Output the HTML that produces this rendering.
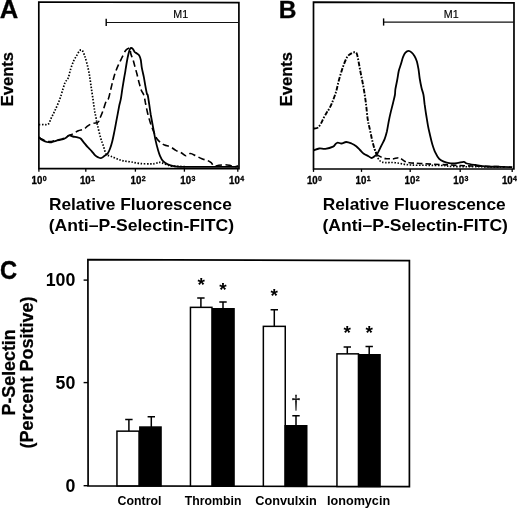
<!DOCTYPE html>
<html><head><meta charset="utf-8"><title>Figure</title>
<style>html,body{margin:0;padding:0;background:#fff}svg{display:block}text{font-family:"Liberation Sans",Arial,Helvetica,sans-serif;fill:#000}.b{font-weight:bold}</style>
</head><body>
<svg width="520" height="508" viewBox="0 0 520 508">
<rect width="520" height="508" fill="#fff"/>
<polygon points="38.8,2.0 238.9,2.7 239,168.7 38.9,168.7" fill="none" stroke="#000" stroke-width="1.7" stroke-linejoin="miter"/>
<text class="b" x="-0.2" y="17.8" font-size="25.6" stroke="#000" stroke-width="0.3">A</text>
<path d="M106.2,22.5 H239" stroke="#111" stroke-width="1.1" fill="none"/>
<path d="M106.2,18.8 V26.0" stroke="#000" stroke-width="1.4" fill="none"/>
<text x="180.8" y="17.6" font-size="10.7" text-anchor="middle" stroke="#000" stroke-width="0.15">M1</text>
<text class="b" transform="translate(13.2,106.3) rotate(-90)" font-size="16.6" textLength="54.3" lengthAdjust="spacingAndGlyphs" stroke="#000" stroke-width="0.25">Events</text>
<path d="M38.9,168.7 v3" stroke="#000" stroke-width="1.3"/>
<text class="b" transform="translate(31.6,184.1) scale(1,1.08)" font-size="9.7" stroke="#000" stroke-width="0.3">10<tspan dy="-2.8" dx="0.4" font-size="7">0</tspan></text>
<path d="M85.8,168.7 v3" stroke="#000" stroke-width="1.3"/>
<text class="b" transform="translate(79.9,184.1) scale(1,1.08)" font-size="9.7" stroke="#000" stroke-width="0.3">10<tspan dy="-2.8" dx="0.4" font-size="7">1</tspan></text>
<path d="M135.4,168.7 v3" stroke="#000" stroke-width="1.3"/>
<text class="b" transform="translate(130.6,184.1) scale(1,1.08)" font-size="9.7" stroke="#000" stroke-width="0.3">10<tspan dy="-2.8" dx="0.4" font-size="7">2</tspan></text>
<path d="M184.4,168.7 v3" stroke="#000" stroke-width="1.3"/>
<text class="b" transform="translate(180.3,184.1) scale(1,1.08)" font-size="9.7" stroke="#000" stroke-width="0.3">10<tspan dy="-2.8" dx="0.4" font-size="7">3</tspan></text>
<path d="M237.8,168.7 v3" stroke="#000" stroke-width="1.3"/>
<text class="b" transform="translate(229.1,184.1) scale(1,1.08)" font-size="9.7" stroke="#000" stroke-width="0.3">10<tspan dy="-2.8" dx="0.4" font-size="7">4</tspan></text>
<polygon points="313.5,2.2 514,2.9 513.9,169 313.5,168.9" fill="none" stroke="#000" stroke-width="1.7" stroke-linejoin="miter"/>
<text class="b" x="278.8" y="17.8" font-size="24.5" stroke="#000" stroke-width="0.3">B</text>
<path d="M383.6,22.1 H514" stroke="#111" stroke-width="1.1" fill="none"/>
<path d="M383.6,18.400000000000002 V25.6" stroke="#000" stroke-width="1.4" fill="none"/>
<text x="451.2" y="18.1" font-size="10.7" text-anchor="middle" stroke="#000" stroke-width="0.15">M1</text>
<text class="b" transform="translate(292.2,106.3) rotate(-90)" font-size="16.6" textLength="54.3" lengthAdjust="spacingAndGlyphs" stroke="#000" stroke-width="0.25">Events</text>
<path d="M313.5,168.9 v3" stroke="#000" stroke-width="1.3"/>
<text class="b" transform="translate(306.9,184.1) scale(1,1.08)" font-size="9.7" stroke="#000" stroke-width="0.3">10<tspan dy="-2.8" dx="0.4" font-size="7">0</tspan></text>
<path d="M361.5,168.9 v3" stroke="#000" stroke-width="1.3"/>
<text class="b" transform="translate(355.6,184.1) scale(1,1.08)" font-size="9.7" stroke="#000" stroke-width="0.3">10<tspan dy="-2.8" dx="0.4" font-size="7">1</tspan></text>
<path d="M410.2,168.9 v3" stroke="#000" stroke-width="1.3"/>
<text class="b" transform="translate(404.6,184.1) scale(1,1.08)" font-size="9.7" stroke="#000" stroke-width="0.3">10<tspan dy="-2.8" dx="0.4" font-size="7">2</tspan></text>
<path d="M460.2,168.9 v3" stroke="#000" stroke-width="1.3"/>
<text class="b" transform="translate(453.3,184.1) scale(1,1.08)" font-size="9.7" stroke="#000" stroke-width="0.3">10<tspan dy="-2.8" dx="0.4" font-size="7">3</tspan></text>
<path d="M512.2,168.9 v3" stroke="#000" stroke-width="1.3"/>
<text class="b" transform="translate(501.9,184.1) scale(1,1.08)" font-size="9.7" stroke="#000" stroke-width="0.3">10<tspan dy="-2.8" dx="0.4" font-size="7">4</tspan></text>
<text class="b" x="140.4" y="210.3" font-size="17.3" text-anchor="middle" textLength="183" lengthAdjust="spacingAndGlyphs">Relative Fluorescence</text>
<text class="b" x="141.4" y="230.8" font-size="17.3" text-anchor="middle" textLength="185.5" lengthAdjust="spacingAndGlyphs">(Anti–P-Selectin-FITC)</text>
<text class="b" x="414.2" y="210.3" font-size="17.3" text-anchor="middle" textLength="183" lengthAdjust="spacingAndGlyphs">Relative Fluorescence</text>
<text class="b" x="415.2" y="230.8" font-size="17.3" text-anchor="middle" textLength="185.5" lengthAdjust="spacingAndGlyphs">(Anti–P-Selectin-FITC)</text>
<path d="M38.9,124.6 C39.8,124.6 42.4,124.6 44.0,124.5 C45.6,124.4 47.1,125.3 48.3,124.2 C49.5,123.1 50.2,120.1 51.4,117.7 C52.5,115.3 53.8,113.1 55.2,110.0 C56.6,106.9 58.5,102.7 59.8,99.2 C61.1,95.7 62.0,92.0 62.9,89.2 C63.8,86.4 64.3,84.2 65.2,82.3 C66.1,80.4 67.4,79.9 68.3,77.7 C69.2,75.5 69.7,72.0 70.6,69.2 C71.5,66.4 72.7,63.1 73.7,60.8 C74.7,58.5 75.8,57.1 76.8,55.4 C77.8,53.7 78.9,51.3 79.8,50.5 C80.7,49.7 81.4,49.7 82.2,50.5 C83.0,51.3 83.7,53.3 84.5,55.4 C85.3,57.5 86.0,60.2 86.8,63.1 C87.6,66.0 88.5,69.8 89.1,73.1 C89.7,76.4 90.1,79.6 90.6,83.1 C91.1,86.5 91.5,89.3 92.2,93.8 C92.9,98.3 93.9,106.0 94.5,110.0 C95.1,114.0 95.5,115.1 96.0,117.7 C96.5,120.3 96.7,122.1 97.5,125.4 C98.3,128.7 99.6,134.1 100.6,137.7 C101.6,141.3 102.8,144.2 103.7,146.9 C104.6,149.7 105.0,152.6 106.2,154.2 C107.4,155.8 109.0,155.4 110.8,156.2 C112.6,157.0 114.9,158.0 116.9,158.8 C119.0,159.6 120.8,160.3 123.1,160.8 C125.4,161.3 128.0,161.5 130.8,161.9 C133.6,162.3 136.7,163.2 140.0,163.5 C143.3,163.8 148.2,163.9 150.8,163.9 C153.4,163.9 154.1,163.8 155.4,163.5 C156.7,163.2 157.5,162.5 158.5,162.4 C159.5,162.3 160.2,162.3 161.5,162.7 C162.8,163.0 164.4,163.9 166.2,164.5 C168.0,165.1 169.2,165.8 172.3,166.1 C175.4,166.4 182.9,166.5 185.0,166.6" fill="none" stroke="#000" stroke-linejoin="round" stroke-linecap="butt" stroke-width="1.7" stroke-dasharray="1.5 1.6"/>
<path d="M38.9,137.2 C39.2,137.4 40.0,138.1 40.5,138.4 C41.0,138.7 41.2,138.7 42.2,139.2 C43.2,139.7 45.3,141.0 46.8,141.4 C48.3,141.8 49.9,141.7 51.4,141.5 C52.9,141.3 54.2,140.6 56.0,140.2 C57.8,139.8 60.5,139.5 62.2,139.0 C63.9,138.5 64.8,137.9 66.0,137.3 C67.2,136.7 67.9,136.0 69.1,135.4 C70.2,134.8 71.4,134.6 72.9,133.8 C74.4,133.0 76.5,131.6 78.3,130.8 C80.1,130.0 82.2,130.0 83.7,129.2 C85.2,128.4 86.1,127.2 87.5,126.2 C88.9,125.2 90.5,124.1 92.2,123.5 C93.9,122.9 96.4,123.0 97.5,122.6 C98.6,122.1 98.6,121.5 99.0,120.8 C99.4,120.0 99.3,119.8 100.0,118.1 C100.7,116.4 102.1,113.2 103.1,110.4 C104.1,107.6 105.3,103.2 106.2,101.2 C107.1,99.2 107.7,100.5 108.5,98.5 C109.3,96.5 110.0,92.3 110.8,89.2 C111.6,86.1 112.3,82.8 113.1,80.0 C113.9,77.2 114.5,74.9 115.4,72.3 C116.3,69.7 117.5,66.9 118.5,64.6 C119.5,62.3 120.3,60.8 121.5,58.5 C122.7,56.2 124.3,52.4 125.4,50.8 C126.5,49.1 127.2,49.0 128.0,48.6 C128.8,48.2 129.5,47.6 130.0,48.5 C130.5,49.4 130.3,51.9 130.8,53.8 C131.3,55.7 132.5,58.1 133.1,60.0 C133.7,61.9 134.0,63.1 134.6,65.4 C135.2,67.7 136.1,70.8 136.9,73.8 C137.7,76.8 138.4,80.3 139.2,83.1 C140.0,85.9 140.7,88.8 141.5,90.8 C142.3,92.8 143.2,93.0 143.8,95.0 C144.5,97.0 144.8,99.6 145.4,102.7 C146.1,105.8 146.8,109.9 147.7,113.5 C148.6,117.1 149.8,121.1 150.8,124.2 C151.8,127.3 152.8,129.5 153.8,131.9 C154.8,134.3 155.7,137.0 156.9,138.8 C158.1,140.6 159.5,141.7 160.8,142.7 C162.1,143.7 163.0,144.3 164.6,145.0 C166.2,145.7 168.5,145.9 170.4,146.8 C172.3,147.7 174.0,149.4 175.8,150.4 C177.6,151.4 179.5,151.8 181.2,152.7 C182.9,153.6 184.3,155.7 185.8,155.8 C187.3,155.9 188.7,153.5 190.4,153.5 C192.1,153.5 193.9,154.9 195.8,155.8 C197.7,156.7 200.0,158.0 201.9,158.8 C203.8,159.6 205.8,159.8 207.3,160.4 C208.9,161.1 210.0,161.7 211.2,162.7 C212.3,163.7 212.9,165.8 214.2,166.2 C215.5,166.6 217.0,165.6 218.8,165.3 C220.6,165.1 223.2,164.7 225.0,164.7 C226.8,164.7 228.1,165.0 229.6,165.3 C231.1,165.7 232.8,166.7 234.2,166.8 C235.6,166.9 237.4,166.0 238.0,165.8" fill="none" stroke="#000" stroke-linejoin="round" stroke-linecap="butt" stroke-width="1.6" stroke-dasharray="6.5 3.5"/>
<path d="M38.9,137.2 C39.2,137.5 40.0,138.3 40.5,138.8 C41.0,139.3 41.2,139.5 42.2,140.0 C43.2,140.5 45.3,141.6 46.8,142.0 C48.3,142.4 49.9,142.5 51.4,142.3 C52.9,142.1 54.2,141.3 56.0,140.8 C57.8,140.3 60.5,140.0 62.2,139.5 C63.9,139.0 64.8,138.4 66.0,137.7 C67.2,137.0 67.9,135.6 69.1,135.4 C70.2,135.2 71.5,136.2 72.9,136.5 C74.3,136.8 76.2,137.1 77.5,137.4 C78.8,137.7 79.6,137.7 80.6,138.5 C81.6,139.3 82.5,140.9 83.7,142.3 C84.9,143.7 86.2,145.5 87.5,146.9 C88.8,148.3 90.1,149.4 91.4,150.8 C92.7,152.2 94.1,154.3 95.2,155.4 C96.3,156.5 97.3,157.0 98.3,157.4 C99.3,157.8 100.4,158.3 101.4,158.0 C102.5,157.7 103.5,156.6 104.6,155.8 C105.6,155.1 106.8,154.7 107.7,153.5 C108.6,152.3 109.2,150.9 110.0,148.8 C110.8,146.8 111.5,144.3 112.3,141.2 C113.1,138.1 113.8,134.2 114.6,130.4 C115.4,126.6 116.1,122.2 116.9,118.1 C117.7,114.0 118.6,108.9 119.2,105.8 C119.8,102.7 120.3,102.0 120.8,99.2 C121.3,96.4 121.8,92.4 122.3,89.2 C122.8,86.0 123.3,83.1 123.8,80.0 C124.3,76.9 124.9,73.9 125.4,70.8 C125.9,67.7 126.4,64.3 126.9,61.5 C127.4,58.7 128.0,55.9 128.5,53.8 C129.0,51.7 129.5,49.9 130.0,48.9 C130.5,47.9 131.0,48.0 131.5,48.0 C132.0,48.0 132.6,48.5 133.1,49.2 C133.6,49.9 134.0,51.3 134.6,52.0 C135.2,52.7 136.1,52.9 136.9,53.5 C137.7,54.1 138.5,54.3 139.2,55.4 C139.8,56.5 140.4,58.0 140.8,60.0 C141.2,62.0 141.3,64.9 141.8,67.7 C142.3,70.5 143.2,73.8 143.8,76.9 C144.4,80.0 144.9,83.4 145.4,86.2 C145.9,89.0 146.5,92.3 146.9,93.8 C147.3,95.3 147.3,93.3 147.7,95.0 C148.1,96.7 148.7,100.9 149.2,104.2 C149.7,107.5 150.2,111.2 150.8,115.0 C151.5,118.8 152.3,123.2 153.1,127.3 C153.9,131.4 154.6,136.0 155.4,139.6 C156.2,143.2 156.9,146.1 157.7,148.8 C158.5,151.5 159.1,153.7 160.0,155.8 C160.9,157.9 161.8,159.8 163.1,161.2 C164.4,162.6 165.9,163.4 167.7,164.2 C169.5,165.0 171.8,165.7 173.8,166.1 C175.9,166.5 175.6,166.7 180.0,166.8 C184.4,166.9 193.3,166.9 200.0,166.9 C206.7,166.9 213.6,166.9 220.0,166.9 C226.4,166.9 235.4,166.9 238.5,166.9" fill="none" stroke="#000" stroke-linejoin="round" stroke-linecap="butt" stroke-width="1.8"/>
<path d="M313.8,128.5 C314.4,128.4 316.5,128.5 317.7,127.7 C318.9,126.9 319.8,125.5 320.8,123.8 C321.8,122.1 322.8,119.6 323.8,117.7 C324.8,115.8 326.1,113.6 326.9,112.3 C327.7,111.0 327.6,111.5 328.5,110.0 C329.4,108.5 330.8,106.0 332.0,103.0 C333.2,100.0 334.8,95.9 336.0,92.0 C337.2,88.1 337.9,83.6 339.1,79.4 C340.3,75.2 341.7,70.5 343.0,66.8 C344.3,63.1 345.7,59.5 347.0,57.3 C348.3,55.1 349.7,54.4 351.0,53.6 C352.3,52.8 353.9,52.1 354.9,52.3 C355.9,52.5 356.3,51.8 357.2,55.0 C358.1,58.2 359.3,66.1 360.4,71.5 C361.4,76.9 362.6,82.0 363.5,87.2 C364.4,92.5 365.2,97.7 365.9,103.0 C366.6,108.3 367.0,114.7 367.7,119.2 C368.4,123.7 369.2,126.4 370.0,130.0 C370.8,133.6 371.5,137.6 372.3,140.8 C373.1,144.0 373.8,146.9 374.6,149.2 C375.4,151.5 376.5,153.7 376.9,154.6" fill="none" stroke="#000" stroke-linejoin="round" stroke-linecap="butt" stroke-width="1.9" stroke-dasharray="4.6 1.5 1.6 1.5"/>
<path d="M376.9,154.6 C377.5,155.0 379.4,156.2 380.8,156.9 C382.2,157.6 383.9,158.3 385.4,158.6 C386.9,158.9 388.6,158.8 390.0,158.8 C391.4,158.8 392.3,159.0 393.8,158.8 C395.3,158.6 397.4,157.4 399.2,157.8 C401.0,158.2 402.9,160.4 404.6,161.2 C406.3,162.0 406.6,162.3 409.2,162.7 C411.8,163.1 414.9,163.2 420.0,163.5 C425.1,163.8 433.3,164.2 440.0,164.5 C446.7,164.8 453.3,165.2 460.0,165.5 C466.7,165.8 472.5,166.0 480.0,166.2 C487.5,166.4 500.8,166.7 505.0,166.8" fill="none" stroke="#000" stroke-linejoin="round" stroke-linecap="butt" stroke-width="1.6" stroke-dasharray="5.5 3"/>
<path d="M374.6,149.2 C375.1,150.6 376.7,155.6 377.7,157.7 C378.7,159.8 379.5,160.7 380.8,161.5 C382.1,162.3 383.0,162.4 385.4,162.6 C387.8,162.8 391.2,162.3 395.4,162.7 C399.6,163.1 403.1,164.5 410.8,165.0 C418.5,165.5 434.6,165.2 441.5,165.5 C448.4,165.8 445.9,166.3 452.3,166.5 C458.7,166.7 471.2,166.7 480.0,166.8 C488.8,166.9 500.8,167.0 505.0,167.0" fill="none" stroke="#000" stroke-linejoin="round" stroke-linecap="butt" stroke-width="1.6" stroke-dasharray="1.5 1.6"/>
<path d="M313.8,150.3 C314.7,150.0 317.3,148.8 319.2,148.5 C321.1,148.2 323.1,149.1 325.4,148.8 C327.7,148.5 331.4,147.4 333.1,146.6 C334.8,145.8 334.6,144.9 335.4,144.2 C336.2,143.5 336.7,142.7 337.7,142.6 C338.7,142.5 340.1,143.6 341.5,143.5 C342.9,143.4 344.5,142.0 346.2,142.0 C347.9,142.0 349.8,142.8 351.5,143.5 C353.2,144.2 354.8,145.1 356.2,146.2 C357.6,147.3 358.7,148.7 360.0,150.0 C361.3,151.3 362.4,152.8 363.8,153.8 C365.2,154.8 367.2,155.5 368.5,156.2 C369.8,156.9 370.5,158.0 371.5,158.0 C372.5,158.0 373.6,157.0 374.6,156.2 C375.6,155.4 376.6,154.9 377.7,153.1 C378.8,151.3 380.4,147.7 381.5,145.4 C382.6,143.1 383.7,141.5 384.6,139.2 C385.5,136.9 386.2,134.2 386.9,131.5 C387.5,128.8 387.9,126.0 388.5,122.7 C389.1,119.4 390.0,115.2 390.8,111.9 C391.6,108.6 392.4,105.5 393.1,102.7 C393.8,99.9 394.5,97.2 394.9,95.0 C395.3,92.8 395.0,91.7 395.4,89.2 C395.8,86.7 396.6,83.1 397.2,80.0 C397.8,76.9 398.2,73.4 398.8,70.8 C399.4,68.2 400.1,66.9 400.8,64.6 C401.5,62.3 402.3,58.9 403.1,56.9 C403.9,54.9 404.5,53.6 405.4,52.6 C406.3,51.6 407.5,50.8 408.5,50.8 C409.5,50.8 410.5,51.4 411.5,52.3 C412.5,53.2 413.7,54.7 414.6,56.2 C415.5,57.7 416.2,59.3 416.9,61.5 C417.5,63.7 418.0,66.4 418.5,69.2 C419.0,72.0 419.2,75.4 419.7,78.5 C420.2,81.6 420.9,85.0 421.5,87.7 C422.1,90.5 423.0,92.2 423.5,95.0 C424.0,97.8 424.2,100.9 424.6,104.2 C425.1,107.5 425.6,111.4 426.2,115.0 C426.8,118.6 427.4,122.5 428.0,125.8 C428.6,129.1 429.3,131.9 430.0,135.0 C430.7,138.1 431.4,141.2 432.3,144.2 C433.2,147.1 434.2,150.3 435.4,152.7 C436.5,155.1 437.8,157.3 439.2,158.8 C440.6,160.3 442.1,160.9 443.8,161.6 C445.5,162.3 447.0,162.9 449.2,163.2 C451.4,163.5 454.5,163.4 456.9,163.2 C459.3,163.0 462.1,161.8 463.8,161.9 C465.5,162.0 465.0,163.0 466.9,163.5 C468.8,164.0 472.2,164.5 475.4,165.0 C478.6,165.5 481.8,166.2 486.2,166.5 C490.6,166.8 497.1,166.7 501.5,166.8 C505.9,166.9 510.5,167.1 512.3,167.2" fill="none" stroke="#000" stroke-linejoin="round" stroke-linecap="butt" stroke-width="1.8"/>
<polygon points="87.9,259.7 409.4,260.6 409.4,486.7 88.1,485.8" fill="none" stroke="#000" stroke-width="1.7"/>
<text class="b" transform="translate(0,278.7) scale(1,1.13)" font-size="23.6" stroke="#000" stroke-width="0.4">C</text>
<path d="M83.6,280.1 H88.0" stroke="#000" stroke-width="1.4"/>
<text class="b" x="75.4" y="286.2" font-size="17.8" text-anchor="end">100</text>
<path d="M83.6,382.6 H88.0" stroke="#000" stroke-width="1.4"/>
<text class="b" x="75.4" y="388.7" font-size="17.8" text-anchor="end">50</text>
<path d="M83.6,485.7 H88.0" stroke="#000" stroke-width="1.4"/>
<text class="b" x="75.4" y="491.8" font-size="17.8" text-anchor="end">0</text>
<text class="b" transform="translate(14.6,372.4) rotate(-90)" font-size="17.6" text-anchor="middle" textLength="86.2" lengthAdjust="spacingAndGlyphs" stroke="#000" stroke-width="0.25">P-Selectin</text>
<text class="b" transform="translate(32.9,372.4) rotate(-90)" font-size="17.6" text-anchor="middle" textLength="152" lengthAdjust="spacingAndGlyphs" stroke="#000" stroke-width="0.25">(Percent Positive)</text>
<path d="M128.9,431.4 V419.6 M125.2,419.6 H132.6" stroke="#000" stroke-width="1.5" fill="none"/>
<rect x="116.95" y="431.15" width="22.10" height="54.73" fill="#fff" stroke="#000" stroke-width="1.5"/>
<path d="M151.3,427.3 V416.8 M147.6,416.8 H155.0" stroke="#000" stroke-width="1.5" fill="none"/>
<rect x="139.85" y="427.05" width="21.20" height="58.89" fill="#000" stroke="#000" stroke-width="1.5"/>
<path d="M200.9,307.6 V298.1 M197.2,298.1 H204.6" stroke="#000" stroke-width="1.5" fill="none"/>
<rect x="190.45" y="307.35" width="21.50" height="178.73" fill="#fff" stroke="#000" stroke-width="1.5"/>
<path d="M223.0,309.0 V302.1 M219.3,302.1 H226.7" stroke="#000" stroke-width="1.5" fill="none"/>
<rect x="212.75" y="308.75" width="21.30" height="177.40" fill="#000" stroke="#000" stroke-width="1.5"/>
<path d="M274.3,326.6 V309.8 M270.6,309.8 H278.0" stroke="#000" stroke-width="1.5" fill="none"/>
<rect x="263.35" y="326.35" width="21.90" height="159.94" fill="#fff" stroke="#000" stroke-width="1.5"/>
<path d="M296.0,426.0 V415.8 M292.3,415.8 H299.7" stroke="#000" stroke-width="1.5" fill="none"/>
<rect x="285.15" y="425.75" width="21.60" height="60.60" fill="#000" stroke="#000" stroke-width="1.5"/>
<path d="M347.3,354.1 V347.1 M343.6,347.1 H351.0" stroke="#000" stroke-width="1.5" fill="none"/>
<rect x="336.95" y="353.85" width="21.50" height="132.64" fill="#fff" stroke="#000" stroke-width="1.5"/>
<path d="M369.2,355.0 V346.4 M365.5,346.4 H372.9" stroke="#000" stroke-width="1.5" fill="none"/>
<rect x="359.25" y="354.75" width="20.80" height="131.81" fill="#000" stroke="#000" stroke-width="1.5"/>
<text class="b" x="201.2" y="291.45" font-size="19" text-anchor="middle">*</text>
<text class="b" x="223" y="295.55" font-size="19" text-anchor="middle">*</text>
<text class="b" x="274.3" y="301.75" font-size="19" text-anchor="middle">*</text>
<text class="b" x="347.3" y="339.45" font-size="19" text-anchor="middle">*</text>
<text class="b" x="369.2" y="339.45" font-size="19" text-anchor="middle">*</text>
<text transform="translate(296.1,408.2) scale(0.85,1)" font-size="18.8" text-anchor="middle" stroke="#000" stroke-width="0.45" style="font-family:'Liberation Serif','DejaVu Serif',serif">†</text>
<text class="b" x="117.6" y="504.6" font-size="12.4" textLength="43.9" lengthAdjust="spacingAndGlyphs">Control</text>
<text class="b" x="184.8" y="504.6" font-size="12.4" textLength="56.6" lengthAdjust="spacingAndGlyphs">Thrombin</text>
<text class="b" x="255.2" y="504.6" font-size="12.4" textLength="61.5" lengthAdjust="spacingAndGlyphs">Convulxin</text>
<text class="b" x="327.0" y="504.6" font-size="12.4" textLength="63.1" lengthAdjust="spacingAndGlyphs">Ionomycin</text>
</svg></body></html>
